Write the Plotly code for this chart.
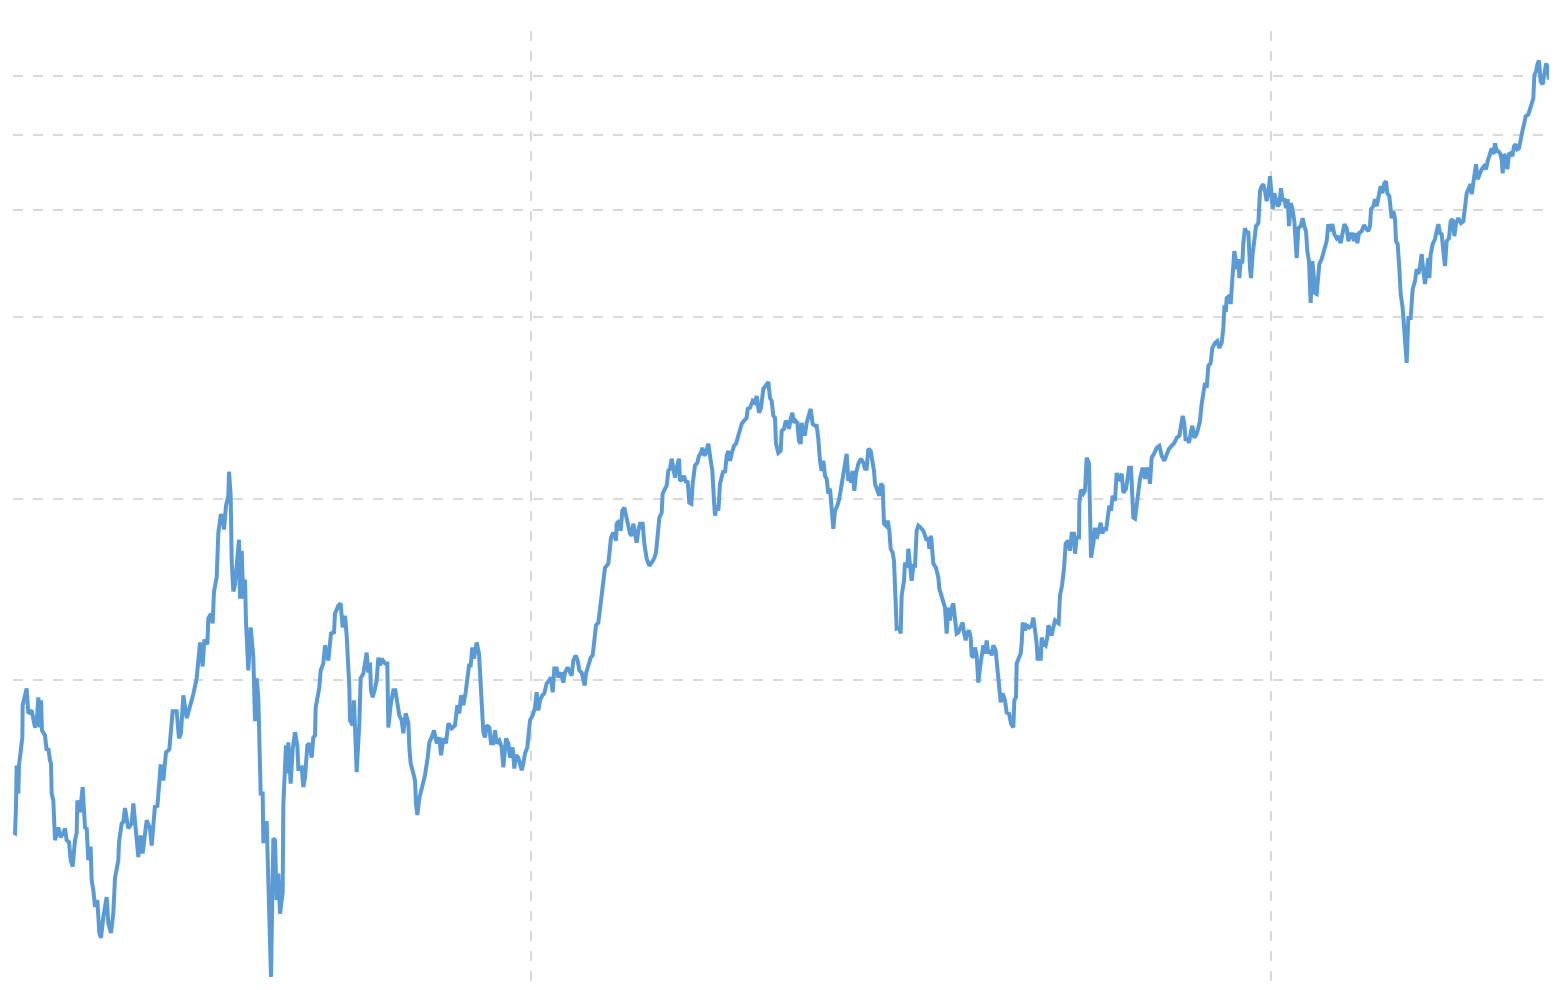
import plotly.graph_objects as go

# Time axis: trading-day index; value axis: index level (log scale)
trading_day = [
    1, 6, 9, 11, 16, 18, 28, 29, 41, 46, 56, 66, 71, 76, 81, 84, 87, 96, 101, 106,
    111, 114, 116, 121, 126, 136, 143, 151, 156, 161, 168, 173, 179, 186, 191, 193, 201, 209, 216, 221,
    226, 229, 233, 236, 241, 246, 253, 259, 264, 271, 281, 286, 294, 301, 306, 316, 318, 326, 331, 336,
    346, 356, 361, 366, 376, 383, 389, 401, 411, 416, 426, 433, 443, 451, 459, 469, 479, 491, 498, 504,
    511, 521, 536, 541, 551, 556, 561, 569, 574, 583, 586, 594, 599, 603, 611, 616, 623, 629, 633, 639,
    646, 648, 653, 656, 661, 666, 673, 678, 681, 686, 691, 696, 699, 706, 713, 721, 726, 731, 736, 743,
    749, 751, 756, 761, 774, 781, 786, 791, 796, 801, 809, 811, 819, 823, 826, 833, 839, 846, 853, 856,
    866, 871, 876, 883, 889, 896, 901, 906, 908, 913, 919, 923, 931, 936, 946, 951, 954, 963, 966, 976,
    983, 989, 996, 1001, 1009, 1011, 1019, 1023, 1026, 1031, 1039, 1043, 1051, 1061, 1066, 1071, 1074, 1079, 1086, 1091,
    1096, 1101, 1106, 1116, 1123, 1126, 1133, 1141, 1147, 1153, 1159, 1166, 1171, 1178, 1186, 1189, 1193, 1201, 1206, 1209,
    1213, 1219, 1226, 1236, 1244, 1249, 1256, 1263, 1271, 1279, 1284, 1291, 1299, 1306, 1316, 1326, 1333, 1339, 1344, 1351,
    1358, 1363, 1368, 1373, 1378, 1383, 1391, 1398, 1403, 1408, 1411, 1416, 1421, 1429, 1434, 1441, 1446, 1451, 1459, 1466,
    1471, 1479, 1486, 1491, 1499, 1504, 1509, 1516, 1521, 1526, 1531, 1536, 1543, 1546, 1551, 1559, 1566, 1571, 1576, 1581,
    1588, 1594, 1601, 1608, 1614, 1619, 1624, 1631, 1636, 1644, 1651, 1656, 1664, 1671, 1676, 1681, 1688, 1694, 1699, 1706,
    1711, 1715, 1719, 1726, 1733, 1739, 1744, 1749, 1756, 1761, 1766, 1771, 1776, 1786, 1789, 1794, 1801, 1809, 1811, 1819,
    1823, 1828, 1834, 1841, 1846, 1851, 1856, 1861, 1866, 1871, 1876, 1881, 1889, 1894, 1901, 1909, 1916, 1923, 1929, 1933,
    1939, 1946, 1949, 1956, 1961, 1966, 1971, 1976, 1981, 1986, 1991, 1998, 2001, 2009, 2013, 2019, 2024, 2029, 2035, 2039,
    2046, 2053, 2058, 2064, 2068, 2074, 2079, 2086, 2091, 2098, 2103, 2106, 2111, 2116, 2121, 2126, 2131, 2136, 2141, 2146,
    2151, 2156, 2163, 2169, 2174, 2181, 2186, 2193, 2201, 2204, 2211, 2219, 2226, 2231, 2238, 2244, 2251, 2258, 2266, 2271,
    2276, 2281, 2286, 2289, 2296, 2303, 2306, 2313, 2318, 2323, 2328, 2333, 2338, 2343, 2348, 2353, 2358, 2363, 2366, 2371,
    2376, 2381, 2386, 2393, 2399, 2406, 2411, 2416, 2421, 2426, 2431, 2436, 2441, 2446, 2451, 2456, 2461, 2466, 2473, 2479,
    2486, 2493, 2501, 2506, 2511, 2514, 2519, 2524, 2529, 2536, 2544, 2551, 2556, 2561, 2566, 2573, 2579, 2583, 2586, 2594,
    2599, 2604, 2609, 2613, 2619, 2624, 2629, 2633, 2639, 2643, 2648, 2651, 2658, 2663, 2666, 2673, 2676, 2683, 2686, 2691,
    2696, 2701, 2706, 2711, 2716, 2723, 2731, 2736, 2741, 2746, 2749, 2754, 2758, 2761, 2769, 2776, 2779, 2786, 2791, 2796,
    2801, 2806, 2811, 2816, 2821, 2826, 2831, 2836, 2843, 2849, 2853, 2858, 2861, 2868, 2873, 2876, 2881, 2886, 2891, 2896,
    2901, 2906, 2911, 2916, 2921, 2926, 2931, 2936, 2941, 2948, 2953, 2957, 2963, 2969, 2976, 2981, 2988, 2994, 3001, 3004,
    3009, 3011, 3018, 3023, 3026, 3029, 3036, 3041, 3049, 3056, 3061, 3066, 3071, 3074, 3079, 3083, 3086, 3091, 3098, 3103,
    3106, 3111, 3116, 3121, 3126, 3133, 3137, 3141, 3147, 3153, 3158, 3166, 3171, 3176, 3183, 3186, 3191, 3198, 3199, 3204,
    3211, 3216, 3221, 3228, 3231, 3234, 3241, 3246, 3251, 3256, 3263, 3268, 3274, 3279, 3284, 3289, 3294, 3299, 3306, 3311,
    3316, 3321, 3326, 3331, 3339, 3344, 3348, 3354, 3361, 3366, 3371, 3376, 3381, 3389, 3396, 3401, 3406, 3411, 3416, 3423,
    3431, 3439, 3446, 3454, 3461, 3468, 3476, 3484, 3491, 3499, 3504, 3509, 3514, 3518, 3523, 3528, 3533, 3538, 3544, 3551,
    3556, 3561, 3566, 3571, 3576, 3581, 3586, 3593, 3598, 3606, 3613, 3619, 3626, 3631, 3634, 3639, 3641, 3649, 3653, 3656,
    3661, 3664, 3669, 3671, 3676, 3679, 3683, 3688, 3691, 3696, 3701, 3706, 3711, 3714, 3719, 3724, 3729, 3736, 3741, 3746,
    3751, 3756, 3761, 3766, 3771, 3776, 3779, 3784, 3789, 3794, 3799, 3804, 3809, 3814, 3819, 3824, 3828, 3833, 3838, 3844,
    3851, 3856, 3863, 3869, 3874, 3879, 3883, 3888, 3893, 3898, 3903, 3906, 3911, 3914, 3919, 3926, 3931, 3936, 3941, 3946,
    3951, 3958, 3964, 3971, 3976, 3983, 3989, 3994, 4001, 4006, 4013, 4018, 4023, 4028, 4033, 4038, 4046, 4053, 4059, 4066,
    4071, 4074, 4081, 4086, 4091, 4098, 4103, 4108, 4114, 4119, 4123, 4129, 4133, 4136, 4141, 4146, 4149, 4154, 4159, 4163,
    4169, 4174, 4181, 4186, 4193, 4199, 4206, 4211, 4216, 4221, 4226, 4231, 4236, 4241, 4246, 4249, 4253, 4259, 4266, 4271,
    4276, 4281, 4286, 4291, 4296, 4301, 4308, 4313, 4319, 4324, 4329, 4336, 4344, 4351, 4356, 4361, 4366, 4373, 4376, 4381,
    4389, 4394, 4401, 4406, 4413, 4419, 4424, 4431, 4436, 4441, 4446, 4451, 4456, 4461, 4466, 4469, 4473, 4478, 4483, 4488,
    4493, 4498, 4503, 4508, 4513, 4518, 4523, 4528, 4533, 4538, 4546, 4551, 4556, 4561, 4564, 4569, 4573, 4578, 4583, 4589,
    4594, 4599, 4603, 4608,
]

index_level = [
    561, 559, 617, 723, 650, 723, 805, 910, 970, 882, 892, 836, 849, 938, 836, 927, 827, 811, 766, 772,
    737, 729, 650, 633, 544, 571, 550, 559, 569, 544, 540, 504, 492, 544, 559, 633, 605, 666, 571, 569,
    504, 527, 527, 467, 450, 422, 433, 382, 375, 406, 438, 396, 382, 412, 471, 504, 540, 580, 583, 615,
    569, 580, 626, 580, 510, 554, 517, 587, 569, 533, 621, 617, 726, 683, 760, 769, 889, 889, 802, 818,
    945, 866, 920, 949, 1008, 1108, 1156, 1055, 1169, 1147, 1267, 1290, 1243, 1404, 1480, 1757, 1874, 1874, 1777, 1947,
    2022, 2216, 2022, 1579, 1404, 1441, 1621, 1710, 1366, 1640, 1366, 1469, 1247, 1039, 1224, 1095, 856, 1008, 938, 650,
    650, 542, 542, 585, 323, 548, 544, 433, 479, 411, 445, 623, 781, 702, 790, 675, 769, 821, 781, 715,
    718, 666, 691, 781, 787, 745, 805, 811, 902, 938, 974, 1039, 1067, 1143, 1079, 1152, 1196, 1201, 1290, 1330,
    1341, 1224, 1280, 1187, 974, 859, 843, 927, 849, 705, 849, 1008, 1027, 1112, 1031, 1071, 963, 938, 970, 1000,
    1091, 1059, 1087, 1067, 1067, 836, 910, 963, 963, 916, 875, 859, 818, 882, 852, 775, 729, 702, 683, 626,
    599, 638, 658, 697, 745, 790, 805, 827, 787, 805, 752, 802, 787, 849, 833, 843, 910, 882, 945, 910,
    956, 1027, 1059, 1059, 1134, 1087, 1156, 1108, 989, 892, 821, 805, 843, 836, 787, 787, 827, 787, 796, 775,
    718, 802, 787, 745, 775, 715, 752, 745, 731, 710, 729, 757, 775, 805, 859, 875, 902, 956, 892, 927,
    945, 952, 989, 1000, 1012, 956, 1047, 1047, 1012, 1031, 992, 1031, 1051, 1031, 1019, 1079, 1100, 1079, 1039, 1031,
    1008, 981, 1027, 1059, 1091, 1100, 1165, 1233, 1247, 1305, 1366, 1463, 1537, 1561, 1609, 1724, 1757, 1704, 1818, 1839,
    1770, 1910, 1932, 1860, 1790, 1750, 1737, 1818, 1750, 1691, 1770, 1818, 1818, 1685, 1591, 1549, 1567, 1591, 1628, 1750,
    1860, 1895, 2038, 2077, 2101, 2224, 2241, 2329, 2224, 2166, 2250, 2329, 2141, 2157, 2182, 2125, 2141, 1969, 1961, 2117,
    2268, 2293, 2355, 2382, 2428, 2355, 2382, 2465, 2355, 2224, 1984, 1874, 1947, 1910, 2117, 2166, 2224, 2207, 2355, 2400,
    2311, 2373, 2446, 2465, 2522, 2590, 2660, 2691, 2722, 2816, 2827, 2904, 2882, 2959, 2774, 2827, 3039, 3074, 3121, 2937,
    2904, 2743, 2722, 2465, 2382, 2400, 2590, 2610, 2691, 2671, 2610, 2711, 2774, 2671, 2691, 2671, 2493, 2465, 2671, 2560,
    2560, 2671, 2722, 2816, 2660, 2640, 2640, 2512, 2311, 2224, 2311, 2182, 2157, 2038, 2077, 1910, 1783, 1910, 1947, 2000,
    2117, 2224, 2373, 2141, 2207, 2125, 2224, 2061, 2199, 2285, 2329, 2293, 2241, 2241, 2418, 2400, 2311, 2224, 2117, 2061,
    2022, 2117, 2101, 1818, 1804, 1839, 1770, 1652, 1628, 1579, 1341, 1219, 1224, 1196, 1383, 1463, 1567, 1537, 1652, 1537,
    1463, 1549, 1549, 1770, 1804, 1790, 1770, 1737, 1704, 1724, 1652, 1737, 1640, 1561, 1537, 1480, 1420, 1372, 1341, 1320,
    1196, 1320, 1257, 1320, 1341, 1257, 1196, 1201, 1233, 1247, 1201, 1165, 1196, 1210, 1178, 1100, 1091, 1134, 1100, 992,
    1051, 1091, 1143, 1108, 1165, 1108, 1121, 1100, 1143, 1121, 1051, 974, 920, 952, 927, 885, 882, 849, 836, 927,
    938, 1067, 1087, 1108, 1152, 1247, 1210, 1233, 1224, 1233, 1271, 1219, 1152, 1079, 1134, 1079, 1178, 1152, 1143, 1178,
    1233, 1219, 1187, 1224, 1257, 1247, 1243, 1383, 1436, 1532, 1685, 1704, 1640, 1750, 1750, 1621, 1724, 1724, 1969, 2069,
    2038, 2061, 2338, 2285, 1961, 1597, 1685, 1790, 1717, 1757, 1825, 1750, 1790, 1770, 1853, 1947, 1910, 2022, 1984, 2207,
    2141, 2166, 2199, 2045, 2077, 2166, 2250, 2250, 1860, 1853, 1961, 2007, 2157, 2250, 2157, 2250, 2224, 2117, 2338, 2373,
    2428, 2446, 2355, 2311, 2355, 2418, 2446, 2474, 2522, 2541, 2640, 2743, 2660, 2493, 2522, 2474, 2570, 2640, 2522, 2560,
    2620, 2691, 2871, 3016, 3109, 3051, 3317, 3355, 3552, 3620, 3648, 3552, 3620, 3834, 4136, 4120, 4297, 4330, 4200, 4447,
    4762, 5139, 4947, 4798, 4985, 4637, 4947, 4909, 5297, 5609, 5503, 5545, 4817, 4637, 5080, 5441, 5652, 5716, 6457, 6582,
    6632, 6457, 6216, 6408, 6837, 6336, 6029, 6408, 6287, 6099, 6145, 6531, 6216, 6287, 6053, 6263, 5652, 6169, 6053, 5760,
    5004, 5609, 5652, 5826, 5652, 5545, 5139, 4947, 4216, 4947, 4637, 4379, 4363, 4637, 4891, 4985, 5080, 5198, 5338, 5694,
    5545, 5694, 5482, 5399, 5441, 5297, 5503, 5694, 5609, 5338, 5482, 5482, 5338, 5503, 5297, 5503, 5545, 5673, 5609, 5545,
    5652, 6029, 6099, 6263, 6099, 6336, 6582, 6408, 6657, 6708, 6408, 6336, 6029, 5826, 5984, 5826, 5338, 5277, 4817, 4363,
    4136, 3834, 3355, 3982, 3982, 4447, 4584, 4798, 4708, 4854, 5080, 4762, 4532, 4762, 5004, 4637, 5080, 5277, 5379, 5545,
    5694, 5503, 5482, 5139, 4854, 5338, 5399, 5760, 5804, 5441, 5716, 5826, 5716, 5760, 6053, 6408, 6506, 6632, 6383, 6708,
    7156, 6759, 6915, 7021, 7102, 7021, 7238, 7519, 7605, 7433, 7752, 7519, 7519, 7462, 7293, 6915, 7433, 7378, 7021, 7433,
    7462, 7378, 7664, 7722, 7576, 7605, 7901, 8113, 8330, 8589, 8653, 8854, 9024, 9198, 10038, 10192, 10466, 10627, 9812, 9700,
    10076, 10507, 10388, 9887,
]

y_grid_values = [1000, 2000, 4000, 6000, 8000, 10000]
x_grid_values = [1554, 3774]

fig = go.Figure(
    go.Scatter(
        x=trading_day,
        y=index_level,
        mode="lines",
        line=dict(color="#5B9BD5", width=4),
        hoverinfo="x+y",
        showlegend=False,
    )
)

grid_color = "#D9D9D9"

fig.update_layout(
    width=1564,
    height=990,
    margin=dict(l=13, r=15, t=31, b=8, pad=0),
    paper_bgcolor="white",
    plot_bgcolor="white",
    showlegend=False,
    xaxis=dict(
        range=[0, 4608],
        tickmode="array",
        tickvals=x_grid_values,
        showticklabels=False,
        ticks="",
        showgrid=True,
        gridcolor=grid_color,
        gridwidth=2,
        griddash="10px,10px",
        zeroline=False,
        showline=False,
    ),
    yaxis=dict(
        type="log",
        range=[2.5008, 4.0753],
        tickmode="array",
        tickvals=y_grid_values,
        showticklabels=False,
        ticks="",
        showgrid=True,
        gridcolor=grid_color,
        gridwidth=2,
        griddash="10px,10px",
        zeroline=False,
        showline=False,
    ),
)

fig.write_html(
    "out.html",
    config={"displayModeBar": False},
    post_script="document.body.style.margin='0';document.body.style.overflow='hidden';",
)
